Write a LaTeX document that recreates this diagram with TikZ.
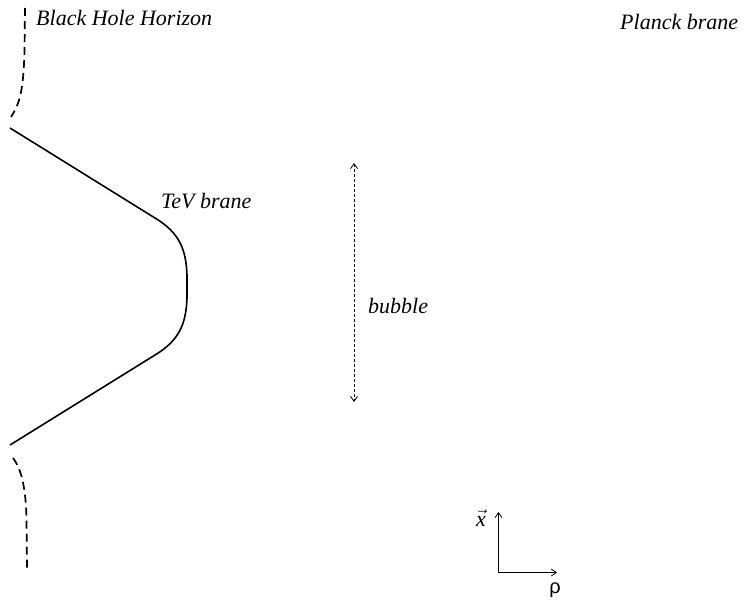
\documentclass[tikz,border=0pt]{standalone}
\usepackage{fontspec}
\usepackage{amsmath}
\setmainfont{Liberation Serif}
\newfontfamily\rhofont{Liberation Sans}
\usetikzlibrary{arrows.meta}
\tikzset{
  lbl/.style={font=\fontsize{22}{26}\selectfont\itshape, inner sep=0pt, anchor=base west},
  brane/.style={line width=1.6pt},
  horizon/.style={line width=1.7pt, dash pattern=on 8pt off 5pt},
  tip/.style={-{Straight Barb[length=5pt,width=7pt]}},
  bubbleline/.style={line width=0.8pt, dash pattern=on 3pt off 2pt, {Straight Barb[length=5pt,width=7pt]}-{Straight Barb[length=5pt,width=7pt]}},
  axis/.style={line width=0.8pt, tip}
}
\begin{document}
\begin{tikzpicture}[x=1pt,y=-1pt]
\useasboundingbox (0,0) rectangle (754,600);
% labels
\node[lbl] (bhh) at (36,25) {Black Hole Horizon};
\node[lbl] (planck) at (620,29) {Planck brane};
\node[lbl] (tev) at (161,208) {TeV brane};
\node[lbl] (bubble) at (368,313) {bubble};
% black hole horizon
\draw[horizon] (25,8) -- (24.5,50) .. controls (23.5,90) and (20,103) .. (11,117);
\draw[horizon] (13,458) .. controls (22,470) and (26,490) .. (26.5,520) -- (27,568);
% TeV brane
\draw[brane] (10,128) -- (155,218) .. controls (180,233) and (186,250) .. (187,275)
  -- (187,298) .. controls (186,323) and (180,340) .. (155,355) -- (10,445);
% bubble arrow
\coordinate (btop) at (354,163);
\coordinate (bbot) at (354,402);
\draw[bubbleline] (btop) -- (bbot);
% axes
\coordinate (o) at (498.5,572.5);
\coordinate (xend) at (498.5,512);
\coordinate (rend) at (557,572.5);
\draw[axis] (o) -- (xend);
\draw[axis] (o) -- (rend);
\node[inner sep=0pt, anchor=base] (xl) at (481,526) {\fontsize{22}{26}\selectfont$\vec{\textit{x}}$};
\node[inner sep=0pt, anchor=base] (rl) at (555,593) {\rhofont\fontsize{20}{24}\selectfont ρ};
\end{tikzpicture}
\end{document}
